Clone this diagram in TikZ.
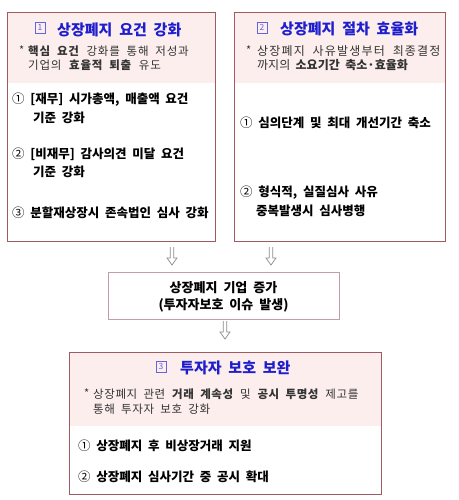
\documentclass[tikz,border=0pt]{standalone}
\usepackage{fontspec}
\setmainfont{Noto Sans CJK KR}[WordSpace=2]
\newfontfamily\noteA{Noto Sans CJK KR}[WordSpace=2, LetterSpace=7]
\newfontfamily\noteB{Noto Sans CJK KR}[WordSpace=2, LetterSpace=10]
\newfontfamily\noteC{Noto Sans CJK KR}[WordSpace=2, LetterSpace=5]
\usetikzlibrary{calc}
\definecolor{bordercol}{HTML}{A05A62}
\definecolor{midborder}{HTML}{C49CA2}
\definecolor{pinkfill}{HTML}{FDEEEE}
\definecolor{titleblue}{HTML}{1E1ECC}
\definecolor{numblue}{HTML}{6464DC}
\definecolor{notegray}{HTML}{333333}
\definecolor{arrowgray}{HTML}{8C8C8C}
\tikzset{
  box/.style={draw=bordercol, line width=1.3pt, inner sep=0pt, anchor=north west},
  pinktop/.style={path picture={\fill[pinkfill] (path picture bounding box.north west) rectangle ([yshift=-#1]path picture bounding box.north east);}},
  titletext/.style={font=\fontsize{15}{18}\selectfont\bfseries, text=titleblue, anchor=west, inner sep=0pt},
  numbox/.style={draw=numblue, text=numblue, line width=0.5pt, font=\fontsize{8.5}{10}\selectfont, minimum width=10pt, minimum height=11pt, inner sep=0pt},
  notetext/.style={text=notegray, anchor=west, inner sep=0pt},
  itemtext/.style={font=\fontsize{12.5}{14}\selectfont\bfseries, anchor=west, inner sep=0pt},
  midtext/.style={font=\fontsize{13}{15}\selectfont\bfseries, inner sep=0pt},
  downarrow/.pic={\draw[arrowgray, line width=0.7pt] (-1.8,0)--(-1.8,11)--(-5,11)--(0,18)--(5,11)--(1.8,11)--(1.8,0);}
}
\newcommand{\cnum}[1]{{\mdseries #1}}
\begin{document}
\begin{tikzpicture}[x=1pt,y=-1pt]
\useasboundingbox (0,0) rectangle (458,500);
\fill[white] (0,0) rectangle (458,500);

% Box 1
\node[box, pinktop=70pt, minimum width=208pt, minimum height=229pt] (b1) at (7,12) {};
\node[numbox] (n1) at (40,27.5) {1};
\node[titletext] (t1) at (57,30) {상장폐지 요건 강화};
\node[notetext, font=\noteA\fontsize{11}{13}\selectfont] (a1) at (19,50) {*};
\node[notetext, font=\noteA\fontsize{11.5}{13}\selectfont] (s1a) at (28,51) {\textbf{핵심 요건} 강화를 통해 저성과};
\node[notetext, font=\noteA\fontsize{11.5}{13}\selectfont] (s1b) at (28,65) {기업의 \textbf{효율적 퇴출} 유도};
\node[itemtext] (i11) at (12,100) {\cnum{①} [재무] 시가총액, 매출액 요건};
\node[itemtext] (i11b) at (33,118) {기준 강화};
\node[itemtext] (i12) at (12,154) {\cnum{②} [비재무] 감사의견 미달 요건};
\node[itemtext] (i12b) at (33,172) {기준 강화};
\node[itemtext] (i13) at (12,213) {\cnum{③} 분할재상장시 존속법인 심사 강화};

% Box 2
\node[box, pinktop=70pt, minimum width=211pt, minimum height=229pt] (b2) at (234,12) {};
\node[numbox] (n2) at (262,27.5) {2};
\node[titletext] (t2) at (280,29) {상장폐지 절차 효율화};
\node[notetext, font=\noteB\fontsize{11}{13}\selectfont] (a2) at (246,50) {*};
\node[notetext, font=\noteB\fontsize{12}{14}\selectfont] (s2a) at (257,51) {상장폐지 사유발생부터 최종결정};
\node[notetext, font=\fontsize{12}{14}\selectfont] (s2b) at (257,65) {까지의 \textbf{소요기간 축소·효율화}};
\node[itemtext] (i21) at (240,123) {\cnum{①} 심의단계 및 최대 개선기간 축소};
\node[itemtext] (i22) at (240,193) {\cnum{②} 형식적, 실질심사 사유};
\node[itemtext] (i22b) at (256,211) {중복발생시 심사병행};

% arrows
\coordinate (ar1) at (172,247);
\coordinate (ar2) at (271,247);
\coordinate (ar3) at (225,321);
\pic at (ar1) {downarrow};
\pic at (ar2) {downarrow};
\pic at (ar3) {downarrow};

% Middle box
\node[box, draw=midborder, line width=0.9pt, minimum width=231pt, minimum height=47pt] (m) at (108,272) {};
\node[midtext] (m1) at (223.5,288) {상장폐지 기업 증가};
\node[midtext] (m2) at (223.5,305) {(투자자보호 이슈 발생)};

% Box 3
\node[box, pinktop=73pt, minimum width=312pt, minimum height=142pt] (b3) at (69,352) {};
\node[numbox] (n3) at (161,366.5) {3};
\node[titletext] (t3) at (180,368) {투자자 보호 보완};
\node[notetext, font=\noteC\fontsize{11}{13}\selectfont] (a3) at (84,393) {*};
\node[notetext, font=\noteC\fontsize{11.5}{13}\selectfont] (s3a) at (93,394) {상장폐지 관련 \textbf{거래 계속성} 및 \textbf{공시 투명성} 제고를};
\node[notetext, font=\noteC\fontsize{11.5}{13}\selectfont] (s3b) at (93,409) {통해 투자자 보호 강화};
\node[itemtext] (i31) at (78,446) {\cnum{①} 상장폐지 후 비상장거래 지원};
\node[itemtext] (i32) at (78,477) {\cnum{②} 상장폐지 심사기간 중 공시 확대};
\end{tikzpicture}
\end{document}
